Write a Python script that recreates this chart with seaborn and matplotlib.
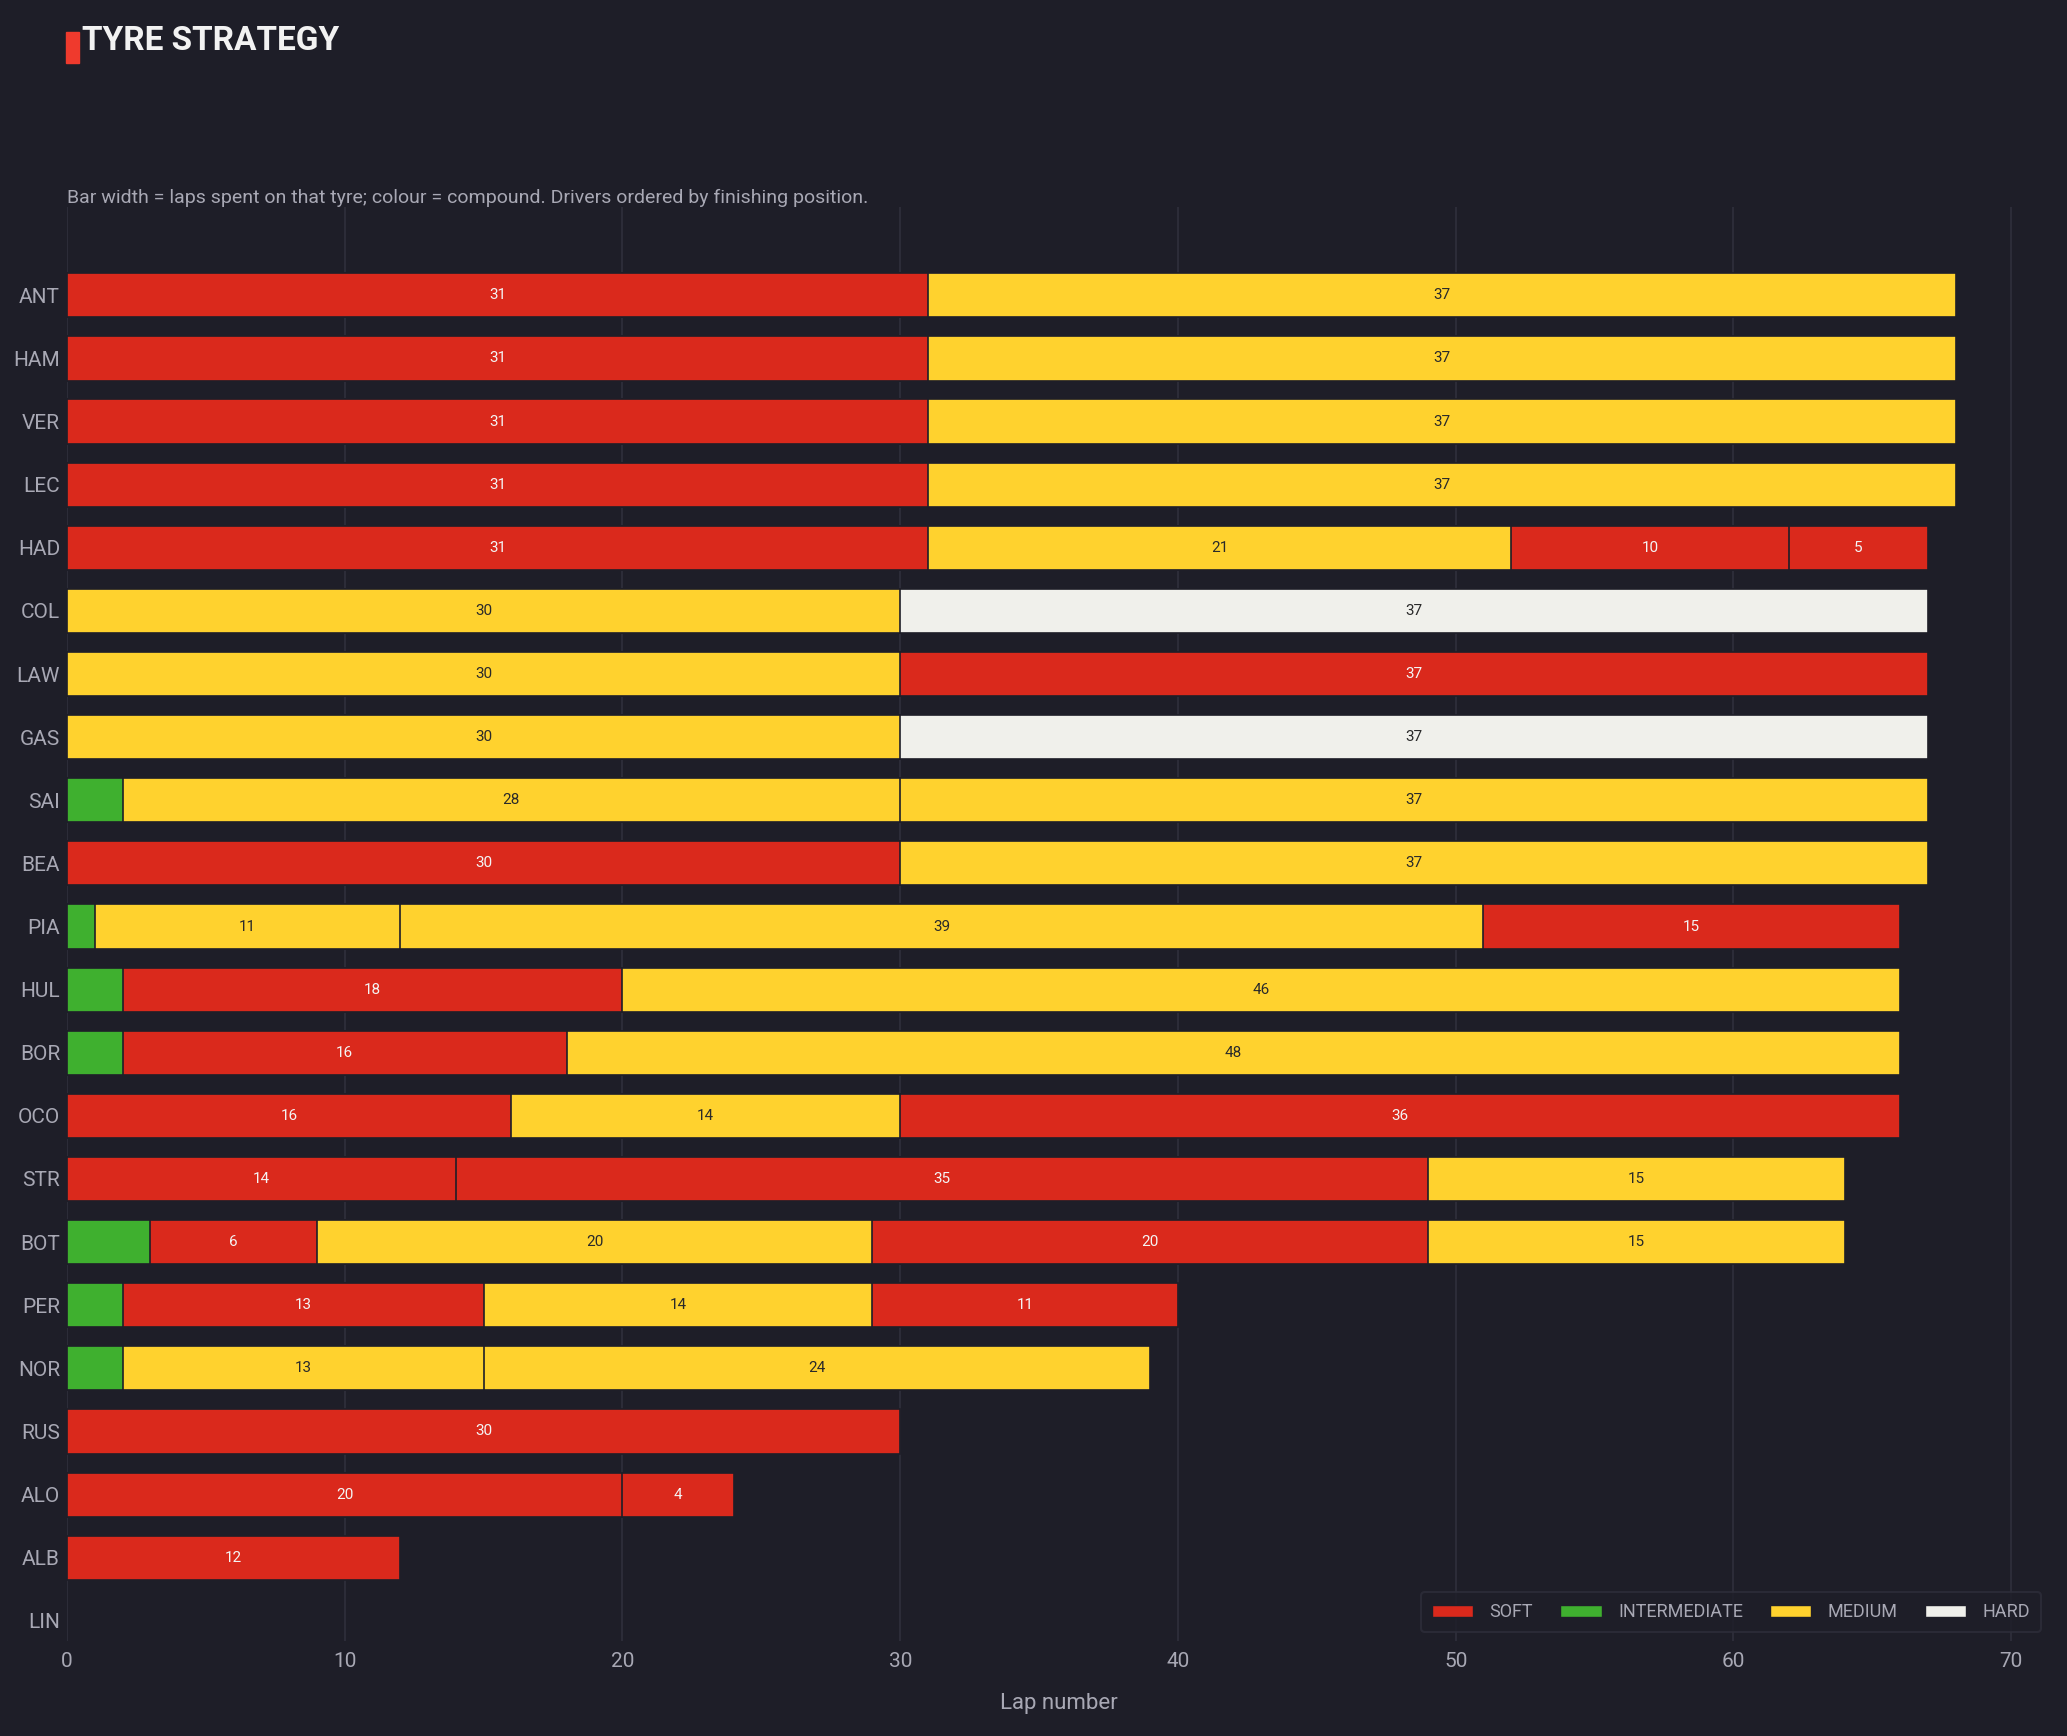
import matplotlib
matplotlib.use("Agg")
import matplotlib.pyplot as plt
import matplotlib.patches as mpatches
import seaborn as sns
import pandas as pd

# Drivers in finishing order
drivers = ["ANT", "HAM", "VER", "LEC", "HAD", "COL", "LAW", "GAS", "SAI", "BEA", "PIA",
           "HUL", "BOR", "OCO", "STR", "BOT", "PER", "NOR", "RUS", "ALO", "ALB", "LIN"]

# Stints per driver: compounds and laps on each
stint_compounds = [
    ["SOFT", "MEDIUM"],
    ["SOFT", "MEDIUM"],
    ["SOFT", "MEDIUM"],
    ["SOFT", "MEDIUM"],
    ["SOFT", "MEDIUM", "SOFT", "SOFT"],
    ["MEDIUM", "HARD"],
    ["MEDIUM", "SOFT"],
    ["MEDIUM", "HARD"],
    ["INTERMEDIATE", "MEDIUM", "MEDIUM"],
    ["SOFT", "MEDIUM"],
    ["INTERMEDIATE", "MEDIUM", "MEDIUM", "SOFT"],
    ["INTERMEDIATE", "SOFT", "MEDIUM"],
    ["INTERMEDIATE", "SOFT", "MEDIUM"],
    ["SOFT", "MEDIUM", "SOFT"],
    ["SOFT", "SOFT", "MEDIUM"],
    ["INTERMEDIATE", "SOFT", "MEDIUM", "SOFT", "MEDIUM"],
    ["INTERMEDIATE", "SOFT", "MEDIUM", "SOFT"],
    ["INTERMEDIATE", "MEDIUM", "MEDIUM"],
    ["SOFT"],
    ["SOFT", "SOFT"],
    ["SOFT"],
    [],
]
stint_laps = [
    [31, 37],
    [31, 37],
    [31, 37],
    [31, 37],
    [31, 21, 10, 5],
    [30, 37],
    [30, 37],
    [30, 37],
    [2, 28, 37],
    [30, 37],
    [1, 11, 39, 15],
    [2, 18, 46],
    [2, 16, 48],
    [16, 14, 36],
    [14, 35, 15],
    [3, 6, 20, 20, 15],
    [2, 13, 14, 11],
    [2, 13, 24],
    [30],
    [20, 4],
    [12],
    [],
]

compounds = ["SOFT", "INTERMEDIATE", "MEDIUM", "HARD"]
colors = {"SOFT": "#da291c", "INTERMEDIATE": "#3fb02f", "MEDIUM": "#ffd22e", "HARD": "#f0f0eb"}
text_on = {"SOFT": "#f4f4f4", "INTERMEDIATE": "#f4f4f4", "MEDIUM": "#2a2a2a", "HARD": "#2a2a2a"}

BG = "#1e1e28"
GRID = "#2e2e3a"
TXT = "#a8a8b4"

# Build long table of stints
rows = []
for drv, comps, laps in zip(drivers, stint_compounds, stint_laps):
    start = 0
    for i, (c, n) in enumerate(zip(comps, laps)):
        rows.append({"driver": drv, "stint": i, "compound": c, "laps": n,
                     "start": start, "end": start + n})
        start += n
df = pd.DataFrame(rows)

sns.set_theme(style="dark")
plt.rcParams["font.family"] = ["Roboto", "DejaVu Sans"]

fig = plt.figure(figsize=(20.67, 17.36), dpi=100, facecolor=BG)
ax = fig.add_axes([0.0324, 0.0547, 0.9594, 0.8261])
ax.set_facecolor(BG)

# Stacked bars: draw cumulative ends from last stint to first
for k in sorted(df["stint"].unique(), reverse=True):
    layer = df[df["stint"] == k]
    sns.barplot(data=layer, y="driver", x="end", hue="compound", order=drivers,
                hue_order=compounds, palette=colors, dodge=False, width=0.7,
                orient="h", edgecolor=BG, linewidth=1.2, legend=False, ax=ax,
                errorbar=None, saturation=1, zorder=3)

# Lap counts inside the stints
for _, r in df.iterrows():
    if r["laps"] >= 4:
        ax.text((r["start"] + r["end"]) / 2, drivers.index(r["driver"]), str(r["laps"]),
                ha="center", va="center", fontsize=11, color=text_on[r["compound"]],
                zorder=5)

ax.set_xlim(0, 71.4)
ax.set_ylim(21.32, -1.40)
ax.set_xticks(range(0, 71, 10))
ax.grid(axis="x", color=GRID, linewidth=1.3, zorder=0)
ax.grid(axis="y", visible=False)
for s in ax.spines.values():
    s.set_visible(False)
ax.tick_params(axis="both", colors=TXT, labelsize=15, length=0, pad=8)
ax.tick_params(axis="y", pad=5)
ax.set_xlabel("Lap number", color=TXT, fontsize=16, labelpad=16)
ax.set_ylabel("")

handles = [mpatches.Patch(facecolor=colors[c], edgecolor=BG, label=c) for c in compounds]
leg = ax.legend(handles=handles, loc="lower right", ncol=4, fontsize=13,
                frameon=True, facecolor=BG, edgecolor=GRID, labelcolor=TXT,
                handlelength=2.3, handleheight=0.7, columnspacing=1.5,
                handletextpad=0.9, borderpad=0.6, bbox_to_anchor=(1.0, 0.0))
leg.get_frame().set_linewidth(1.5)
leg.set_zorder(10)

# Title block
fig.patches.append(mpatches.Rectangle((0.0319, 0.9637), 0.0063, 0.0179,
                                      transform=fig.transFigure, color="#ef3a2d"))
fig.text(0.0395, 0.9765, "TYRE STRATEGY", color="#f2f2f2", fontsize=24,
         fontweight="bold", va="center", ha="left")
fig.text(0.0324, 0.886, "Bar width = laps spent on that tyre; colour = compound. Drivers ordered by finishing position.",
         color=TXT, fontsize=14, va="center", ha="left")

fig.savefig("out.png", dpi=100, facecolor=BG)
